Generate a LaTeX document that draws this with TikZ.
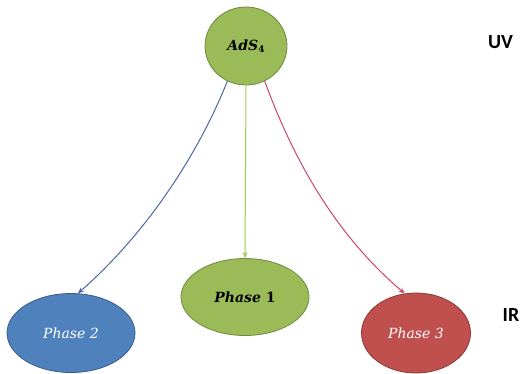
\documentclass[tikz,border=0pt]{standalone}
\usepackage{fontspec}
\setmainfont{DejaVu Serif}
\newfontfamily\labfont{Carlito}
\usetikzlibrary{shapes.geometric,arrows.meta}
\definecolor{ogreen}{HTML}{9BBB59}
\definecolor{ogreenD}{HTML}{71893F}
\definecolor{oblue}{HTML}{4F81BD}
\definecolor{oblueD}{HTML}{385D8A}
\definecolor{ored}{HTML}{C0504D}
\definecolor{oredD}{HTML}{8C3836}
\definecolor{lblue}{HTML}{5064A8}
\definecolor{lred}{HTML}{CC4563}
\definecolor{lgreen}{HTML}{9BCB4F}
\tikzset{
  x=1pt, y=1pt,
  blob/.style={ellipse, inner sep=0pt, line width=0.8pt},
  conn/.style={line width=1pt, -{Stealth[length=6pt,width=5pt]}},
  side/.style={font=\labfont\bfseries\fontsize{20}{24}\selectfont, text=black},
  txt/.style={font=\fontsize{14}{17}\selectfont}
}
\begin{document}
\begin{tikzpicture}
\useasboundingbox (0,0) rectangle (524,-373);
\node[blob, fill=ogreen, draw=ogreenD, minimum width=82, minimum height=78, txt] (ads) at (246,-46)
  {\textbf{\textit{AdS}}\raisebox{-2.5pt}{\fontsize{9}{10}\selectfont\textbf{4}}};
\node[blob, fill=ogreen, draw=ogreenD, minimum width=128, minimum height=77, txt] (ph1) at (245,-297)
  {\textbf{\textit{Phase} 1}};
\node[blob, fill=oblue, draw=oblueD, minimum width=128, minimum height=79, txt, text=white] (ph2) at (71,-333)
  {\textit{Phase 2}};
\node[blob, fill=ored, draw=oredD, minimum width=109, minimum height=80, txt, text=white] (ph3) at (416,-333)
  {\textit{Phase 3}};
\node[side] (uv) at (500.5,-42) {UV};
\node[side] (ir) at (511,-315) {IR};
\draw[conn, lgreen] (ads.south) -- (ph1.north);
\draw[conn, lblue] (ads.-118) .. controls (200,-150) and (150,-230) .. (ph2.80);
\draw[conn, lred] (ads.-62) .. controls (290,-150) and (330,-230) .. (ph3.106);
\end{tikzpicture}
\end{document}
